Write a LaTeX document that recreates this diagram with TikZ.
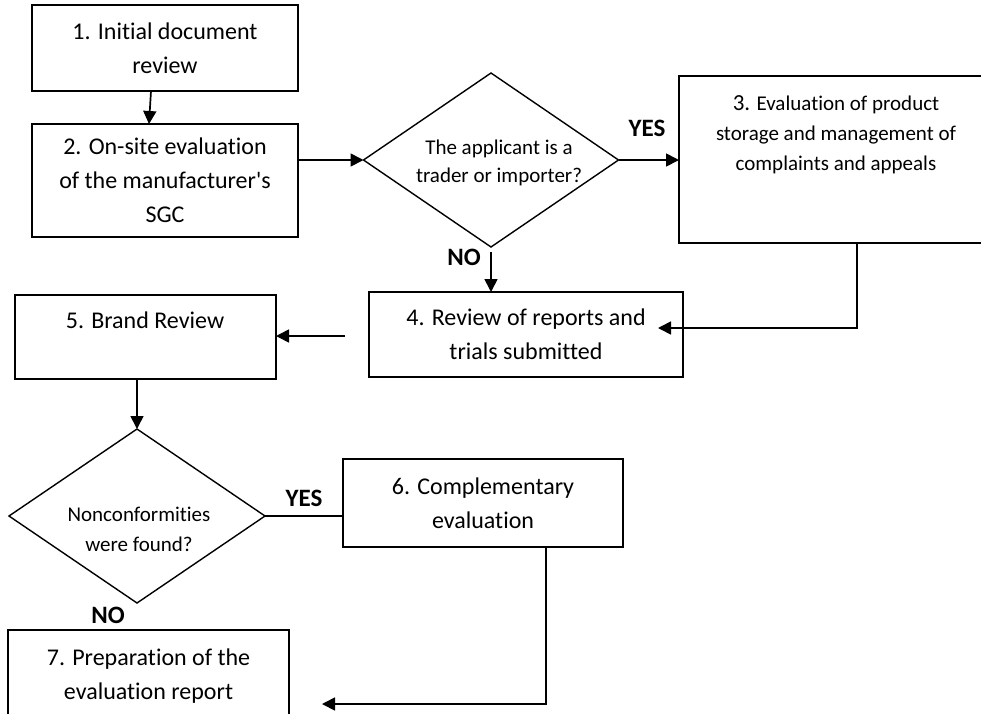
\documentclass[tikz,border=0pt]{standalone}
\usepackage{fontspec}
\setmainfont{Carlito}[Ligatures={TeXOff,CommonOff}]
\usetikzlibrary{arrows.meta,shapes.geometric}

\tikzset{
  box/.style={draw=black, line width=1.8pt, rectangle, inner sep=0pt, outer sep=0pt,
    align=center, font=\fontsize{24}{34}\selectfont},
  decision/.style={draw=black, line width=1.4pt, diamond, inner sep=0pt, outer sep=0pt},
  smalltext/.style={align=center, inner sep=0pt, anchor=north},
  answer/.style={font=\fontsize{25}{30}\selectfont\bfseries, inner sep=0pt},
  flow/.style={line width=1.7pt, -{Triangle[length=13pt,width=13pt]}},
  plain/.style={line width=1.7pt}
}

\begin{document}
\begin{tikzpicture}[x=1pt, y=-1pt]
  \useasboundingbox (0,0) rectangle (981,713);
  \clip (0,0) rectangle (981,713);

  % process steps
  \node[box, minimum width=266pt, minimum height=86pt]  (b1) at (165,48)    {1. Initial document\\review};
  \node[box, minimum width=266pt, minimum height=113pt] (b2) at (165,180.5) {2. On-site evaluation\\of the manufacturer's\\SGC};
  \node[box, minimum width=314pt, minimum height=167pt] (b3) at (836,159.5) {};
  \node[box, minimum width=314pt, minimum height=85pt]  (b4) at (526,334.5) {4. Review of reports and\\trials submitted};
  \node[box, minimum width=261pt, minimum height=84pt]  (b5) at (145.5,337) {};
  \node[box, minimum width=280pt, minimum height=88pt]  (b6) at (483,503)   {6. Complementary\\evaluation};
  \node[box, minimum width=281pt, minimum height=92pt]  (b7) at (148.5,676) {7. Preparation of the\\evaluation report};

  % texts set near the top of their boxes
  \node[smalltext, font=\fontsize{21}{30}\selectfont] (b3t) at (836,95)
    {{\fontsize{23}{30}\selectfont 3.} Evaluation of product\\storage and management of\\complaints and appeals};
  \node[inner sep=0pt, anchor=base, font=\fontsize{24}{34}\selectfont] (b5t) at (145,328) {5. Brand Review};

  % decisions
  \node[decision, minimum width=255pt, minimum height=174pt] (d1) at (491,160) {};
  \node[decision, minimum width=256pt, minimum height=174pt] (d2) at (137,516) {};
  \node[smalltext, font=\fontsize{21}{28}\selectfont] (d1t) at (499,140)
    {The applicant is a\\trader or importer?};
  \node[smalltext, font=\fontsize{21}{30}\selectfont] (d2t) at (139,507)
    {Nonconformities\\were found?};

  % answers
  \node[answer] (yes1) at (647,128) {YES};
  \node[answer] (no1)  at (464,257) {NO};
  \node[answer] (yes2) at (304,498) {YES};
  \node[answer] (no2)  at (108,615) {NO};

  % bends and free ends of connectors
  \coordinate (k3) at (857,328);
  \coordinate (t4) at (658,328);
  \coordinate (s4) at (345,336);
  \coordinate (k6) at (546,704);
  \coordinate (t7) at (322,704);

  % connectors
  \draw[flow] ([xshift=-14pt]b1.south) -- ([xshift=-16pt]b2.north);
  \draw[flow] (b2.east |- d1.west) -- (d1.west);
  \draw[flow] (d1.east) -- (d1.east -| b3.west);
  \draw[flow, shorten <=5pt] (d1.south) -- (d1.south |- b4.north);
  \draw[flow] (k3 |- b3.south) -- (k3) -- (t4);
  \draw[flow] (s4) -- (s4 -| b5.east);
  \draw[flow] (d2.north |- b5.south) -- (d2.north);
  \draw[plain] (d2.east) -- (d2.east -| b6.west);
  \draw[flow] (k6 |- b6.south) -- (k6) -- (t7);
\end{tikzpicture}
\end{document}
